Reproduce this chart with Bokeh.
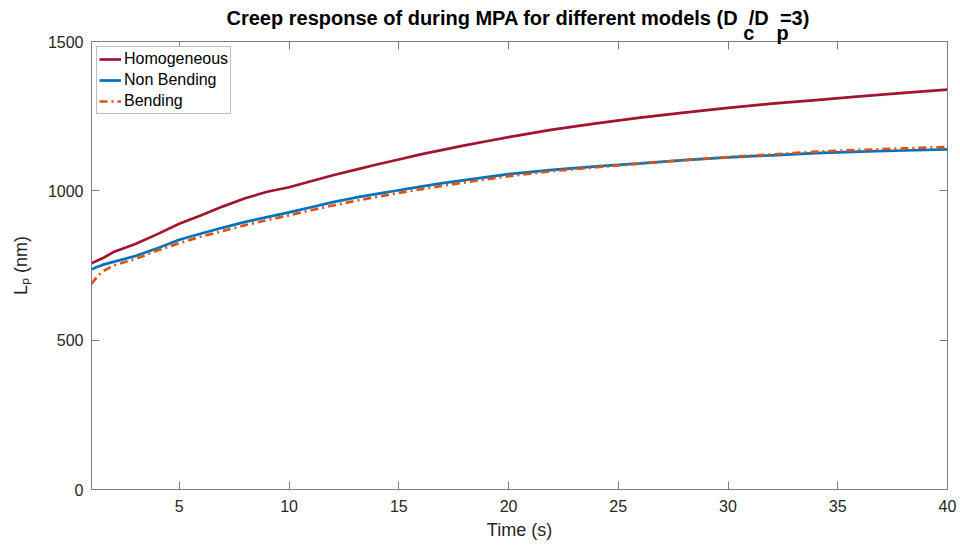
import math
from bokeh.plotting import figure
from bokeh.models import Label, FixedTicker, LinearAxis, Range1d
from bokeh.embed import file_html
from bokeh.resources import INLINE

# ---- data ----
time_s = [1, 1.25, 1.5, 2, 3, 4, 5, 6, 7, 8, 9, 10, 11, 12, 13, 14, 15, 16, 17, 18,
          19, 20, 22, 24, 26, 28, 30, 32, 34, 36, 38, 40]
homogeneous = [757, 766, 774, 795, 822, 855, 890, 918, 948, 975, 997, 1012, 1032, 1052,
               1070, 1088, 1105, 1122, 1137, 1152, 1166, 1180, 1205, 1226, 1245, 1262,
               1278, 1292, 1304, 1316, 1328, 1339]
non_bending = [737, 745, 752, 762, 782, 808, 836, 857, 877, 896, 912, 928, 945, 962,
               977, 990, 1002, 1014, 1026, 1036, 1046, 1056, 1070, 1082, 1092, 1103,
               1112, 1119, 1126, 1131, 1135, 1139]
bending = [688, 712, 730, 750, 772, 800, 825, 847, 866, 885, 902, 918, 935, 951, 966,
           980, 993, 1005, 1017, 1028, 1039, 1049, 1066, 1079, 1091, 1103, 1113, 1122,
           1131, 1137, 1142, 1147]
x_ticks = [5, 10, 15, 20, 25, 30, 35, 40]
y_ticks = [0, 500, 1000, 1500]
series_names = ["Homogeneous", "Non Bending", "Bending"]

# ---- layout ----
W, H = 960, 547
FL, FR, FT, FB = 91, 947, 41, 489
X0, X1, Y0, Y1 = 1, 40, 0, 1500
FONT = "Liberation Sans"
AX = "#262626"
FRAME = "#7f7f7f"
NB = "\u00a0"


def dx(sx):
    return X0 + (sx - FL) / (FR - FL) * (X1 - X0)


def dy(sy):
    return Y0 + (FB - sy) / (FB - FT) * (Y1 - Y0)


p = figure(width=W, height=H, output_backend="svg", toolbar_location=None,
           x_range=Range1d(X0, X1), y_range=Range1d(Y0, Y1),
           min_border_left=FL, min_border_right=W - FR,
           min_border_top=FT, min_border_bottom=H - FB)
p.title = None
p.xgrid.visible = False
p.ygrid.visible = False
p.outline_line_color = FRAME
p.background_fill_color = "white"
p.border_fill_color = "white"


def style_axis(ax, labels=True):
    ax.axis_line_color = FRAME
    ax.major_tick_line_color = FRAME
    ax.minor_tick_line_color = None
    ax.major_tick_in = 8
    ax.major_tick_out = 0
    ax.major_label_text_font = FONT
    ax.major_label_text_font_size = "16px"
    ax.major_label_text_color = AX
    if not labels:
        ax.major_label_text_font_size = "0px"
        ax.major_label_text_color = None
        ax.major_label_standoff = 0


xa = p.xaxis[0]
xa.ticker = FixedTicker(ticks=x_ticks)
style_axis(xa)
xa.major_label_standoff = 10
xa.axis_label = "Time (s)"
xa.axis_label_text_font = FONT
xa.axis_label_text_font_size = "18px"
xa.axis_label_text_font_style = "normal"
xa.axis_label_text_color = AX
xa.axis_label_standoff = 5

ya = p.yaxis[0]
ya.ticker = FixedTicker(ticks=y_ticks)
style_axis(ya)
ya.major_label_standoff = 8
ya.axis_label = "L\u209a (nm)"
ya.axis_label_text_font = FONT
ya.axis_label_text_font_size = "18px"
ya.axis_label_text_font_style = "normal"
ya.axis_label_text_color = AX
ya.axis_label_standoff = 14

top = LinearAxis(ticker=FixedTicker(ticks=x_ticks))
style_axis(top, labels=False)
p.add_layout(top, "above")
right = LinearAxis(ticker=FixedTicker(ticks=y_ticks))
style_axis(right, labels=False)
p.add_layout(right, "right")

colors = ["#A2142F", "#0072BD", "#D95319"]
values = [homogeneous, non_bending, bending]
dashes = ["solid", "solid", "8 4 2 4"]
for name, ys, c, d in zip(series_names, values, colors, dashes):
    p.line(time_s, ys, line_color=c, line_width=2.7, line_dash=d, legend_label=name)

lg = p.legend[0]
lg.location = "top_left"
lg.margin = 5
lg.padding = 2
lg.spacing = 1
lg.glyph_width = 22
lg.glyph_height = 20
lg.label_height = 20
lg.label_standoff = 3
lg.label_text_font = FONT
lg.label_text_font_size = "16px"
lg.label_text_color = "#000000"
lg.border_line_color = "#7a7a7a"
lg.border_line_width = 1
lg.background_fill_alpha = 1.0

# title with subscripts: one two-line label; the second line carries the
# subscripts "c" and "p", spaced with non-breaking spaces under the gaps.
line1 = "Creep response of during MPA for different models (D" + NB * 2 + "/D" + NB * 2 + "=3)"
line2 = NB * 93 + "c" + NB * 4 + "p"
p.add_layout(Label(x=dx(226), y=dy(25), text=line1 + "\n" + line2, text_font=FONT,
                   text_font_size="20px", text_font_style="bold",
                   text_align="left", text_baseline="alphabetic",
                   text_line_height=0.72, text_color="#000000"), "above")

open("out.html", "w").write(file_html(p, INLINE))
